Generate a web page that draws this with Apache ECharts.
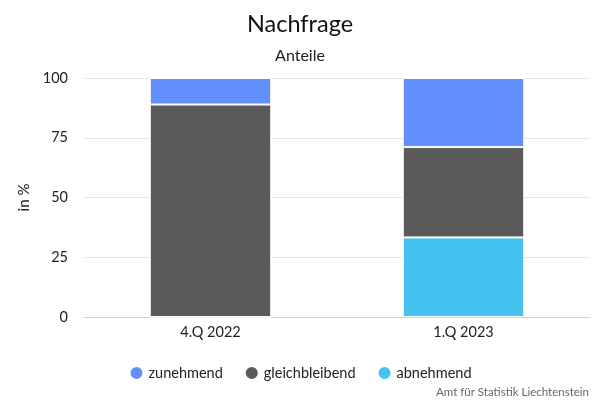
<!DOCTYPE html>
<html><head><meta charset="utf-8">
<script src="https://cdn.jsdelivr.net/npm/echarts@6/dist/echarts.min.js"></script>
<style>html,body{margin:0;padding:0;background:#fff}#c{width:600px;height:400px}</style>
</head><body><div id="c"></div>
<script>
const categories = ['4.Q 2022', '1.Q 2023'];
const abnehmend = [0, 33.3];
const gleichbleibend = [88.9, 37.8];
const zunehmend = [11.1, 28.9];
const yTicks = [0, 25, 50, 75, 100];

const font = 'Lato';
const chart = echarts.init(document.getElementById('c'));
const mk = (name, data, color) => ({
  name, type: 'bar', stack: 's', data, barWidth: '48%',
  itemStyle: { color, borderColor: '#fff', borderWidth: 1 },
  emphasis: { disabled: true }
});
chart.setOption({
  animation: false,
  textStyle: { fontFamily: font },
  title: [
    { text: 'Nachfrage', left: 'center', top: 7, textStyle: { fontFamily: font, fontSize: 23.5, fontWeight: 'normal', color: '#111' } },
    { text: 'Anteile', left: 'center', top: 43, textStyle: { fontFamily: font, fontSize: 16, fontWeight: 'normal', color: '#222' } },
    { text: 'Amt für Statistik Liechtenstein', right: 6, top: 381, textStyle: { fontFamily: font, fontSize: 11.5, fontWeight: 'normal', color: '#666' } }
  ],
  legend: {
    data: ['zunehmend', 'gleichbleibend', 'abnehmend'],
    top: 360, left: 'center', icon: 'circle', itemWidth: 14, itemHeight: 14, itemGap: 21,
    textStyle: { fontFamily: font, fontSize: 14.5, color: '#222' }
  },
  grid: { left: 84, right: 10, top: 78, bottom: 83 },
  xAxis: {
    type: 'category', data: categories,
    axisLine: { lineStyle: { color: '#ccd0e0' } }, axisTick: { show: false },
    axisLabel: { fontFamily: font, fontSize: 14.5, color: '#222', margin: 8 }
  },
  yAxis: {
    type: 'value', min: yTicks[0], max: yTicks[yTicks.length - 1], interval: 25,
    name: 'in %', nameLocation: 'middle', nameGap: 49, nameRotate: 90,
    nameTextStyle: { fontFamily: font, fontSize: 15, color: '#222' },
    axisLabel: { fontFamily: font, fontSize: 14.5, color: '#222', margin: 16 },
    splitLine: { lineStyle: { color: '#e6e6e6' } }
  },
  series: [
    mk('abnehmend', abnehmend, '#44c2f0'),
    mk('gleichbleibend', gleichbleibend, '#5a5a5a'),
    mk('zunehmend', zunehmend, '#638ffe')
  ]
});
</script></body></html>
